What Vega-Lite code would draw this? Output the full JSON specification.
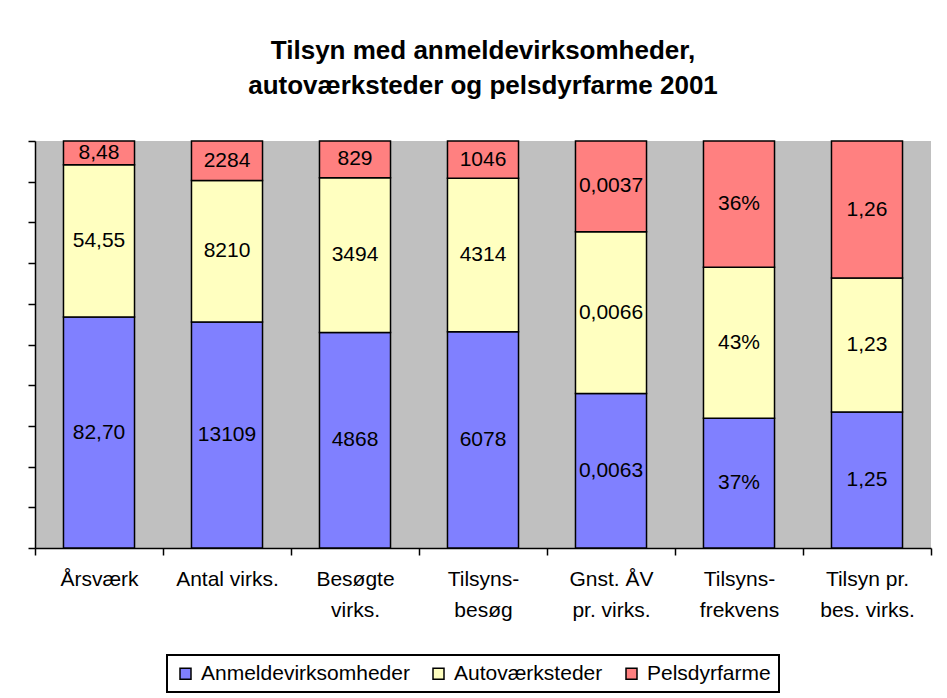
{
  "$schema": "https://vega.github.io/schema/vega-lite/v6.json",
  "width": 896,
  "height": 407,
  "autosize": {"type": "none"},
  "padding": {"left": 35, "top": 141, "right": 16, "bottom": 150},
  "background": "white",
  "title": {
    "text": ["Tilsyn med anmeldevirksomheder,", "autoværksteder og pelsdyrfarme 2001"],
    "font": "Liberation Sans",
    "fontSize": 26,
    "fontWeight": "bold",
    "color": "black",
    "lineHeight": 35,
    "anchor": "middle",
    "offset": 41
  },
  "data": {
    "values": [
      {"kategori": "Årsværk", "serie": "Anmeldevirksomheder", "value": 82.70, "label": "82,70"},
      {"kategori": "Årsværk", "serie": "Autoværksteder", "value": 54.55, "label": "54,55"},
      {"kategori": "Årsværk", "serie": "Pelsdyrfarme", "value": 8.48, "label": "8,48"},
      {"kategori": "Antal virks.", "serie": "Anmeldevirksomheder", "value": 13109, "label": "13109"},
      {"kategori": "Antal virks.", "serie": "Autoværksteder", "value": 8210, "label": "8210"},
      {"kategori": "Antal virks.", "serie": "Pelsdyrfarme", "value": 2284, "label": "2284"},
      {"kategori": "Besøgte|virks.", "serie": "Anmeldevirksomheder", "value": 4868, "label": "4868"},
      {"kategori": "Besøgte|virks.", "serie": "Autoværksteder", "value": 3494, "label": "3494"},
      {"kategori": "Besøgte|virks.", "serie": "Pelsdyrfarme", "value": 829, "label": "829"},
      {"kategori": "Tilsyns-|besøg", "serie": "Anmeldevirksomheder", "value": 6078, "label": "6078"},
      {"kategori": "Tilsyns-|besøg", "serie": "Autoværksteder", "value": 4314, "label": "4314"},
      {"kategori": "Tilsyns-|besøg", "serie": "Pelsdyrfarme", "value": 1046, "label": "1046"},
      {"kategori": "Gnst. ÅV|pr. virks.", "serie": "Anmeldevirksomheder", "value": 0.0063, "label": "0,0063"},
      {"kategori": "Gnst. ÅV|pr. virks.", "serie": "Autoværksteder", "value": 0.0066, "label": "0,0066"},
      {"kategori": "Gnst. ÅV|pr. virks.", "serie": "Pelsdyrfarme", "value": 0.0037, "label": "0,0037"},
      {"kategori": "Tilsyns-|frekvens", "serie": "Anmeldevirksomheder", "value": 37, "label": "37%"},
      {"kategori": "Tilsyns-|frekvens", "serie": "Autoværksteder", "value": 43, "label": "43%"},
      {"kategori": "Tilsyns-|frekvens", "serie": "Pelsdyrfarme", "value": 36, "label": "36%"},
      {"kategori": "Tilsyn pr.|bes. virks.", "serie": "Anmeldevirksomheder", "value": 1.25, "label": "1,25"},
      {"kategori": "Tilsyn pr.|bes. virks.", "serie": "Autoværksteder", "value": 1.23, "label": "1,23"},
      {"kategori": "Tilsyn pr.|bes. virks.", "serie": "Pelsdyrfarme", "value": 1.26, "label": "1,26"}
    ]
  },
  "encoding": {
    "x": {
      "field": "kategori",
      "type": "nominal",
      "sort": null,
      "scale": {"paddingInner": 0, "paddingOuter": 0},
      "axis": {
        "title": null,
        "labelAngle": 0,
        "tickBand": "extent",
        "tickSize": 7,
        "tickColor": "black",
        "tickWidth": 1.5,
        "domainColor": "black",
        "domainWidth": 1.5,
        "labelFont": "Liberation Sans",
        "labelFontSize": 21,
        "labelColor": "black",
        "labelLineHeight": 31,
        "labelPadding": 13,
        "labelExpr": "split(datum.label, '|')"
      }
    },
    "order": {"field": "serie", "type": "nominal", "sort": "ascending"},
    "detail": {"field": "serie", "type": "nominal"}
  },
  "layer": [
    {
      "mark": {"type": "bar", "width": {"band": 0.555}, "stroke": "black", "strokeWidth": 1.5, "opacity": 1},
      "encoding": {
        "y": {
          "field": "value",
          "type": "quantitative",
          "stack": "normalize",
          "scale": {"domain": [0, 1], "nice": false},
          "axis": {
            "title": null,
            "labels": false,
            "grid": false,
            "values": [0, 0.1, 0.2, 0.3, 0.4, 0.5, 0.6, 0.7, 0.8, 0.9, 1],
            "tickSize": 7,
            "tickColor": "black",
            "tickWidth": 1.5,
            "domainColor": "black",
            "domainWidth": 1.5
          }
        },
        "color": {
          "field": "serie",
          "type": "nominal",
          "scale": {
            "domain": ["Anmeldevirksomheder", "Autoværksteder", "Pelsdyrfarme"],
            "range": ["#8080FF", "#FFFFC0", "#FF8080"]
          },
          "legend": {
            "title": null,
            "orient": "none",
            "legendX": 132,
            "legendY": 514,
            "direction": "horizontal",
            "strokeColor": "black",
            "fillColor": "white",
            "padding": 8,
            "labelFont": "Liberation Sans",
            "labelFontSize": 21,
            "labelColor": "black",
            "labelLimit": 0,
            "labelOffset": 5,
            "columnPadding": 18,
            "symbolType": "square",
            "symbolSize": 121,
            "symbolStrokeColor": "black",
            "symbolStrokeWidth": 1.5,
            "symbolOpacity": 1,
            "encode": {"legend": {"update": {"strokeWidth": {"value": 2}}}}
          }
        }
      }
    },
    {
      "mark": {"type": "text", "font": "Liberation Sans", "fontSize": 21, "color": "black"},
      "encoding": {
        "y": {"field": "value", "type": "quantitative", "stack": "normalize", "bandPosition": 0.5},
        "text": {"field": "label", "type": "nominal"}
      }
    }
  ],
  "config": {
    "view": {"fill": "#C0C0C0", "stroke": null}
  }
}
